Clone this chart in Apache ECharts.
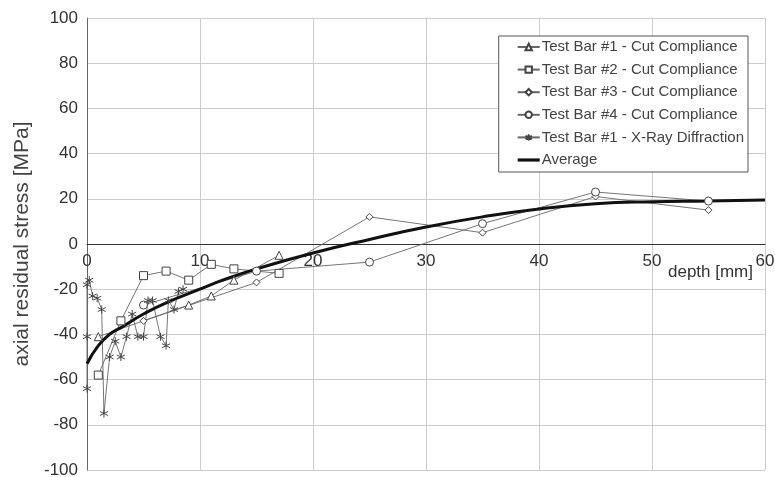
<!DOCTYPE html>
<html>
<head>
<meta charset="utf-8">
<script src="https://cdn.jsdelivr.net/npm/echarts@6/dist/echarts.min.js"></script>
<style>
  html, body { margin: 0; padding: 0; background: #fff; }
  #chart { width: 775px; height: 477px; }
</style>
</head>
<body>
<div id="chart"></div>
<script>
  // [depth mm, stress MPa]
  var bar1Cut = [[1, -41], [9, -27], [11, -23], [13, -16], [17, -5]];
  var bar2Cut = [[1, -58], [3, -34], [5, -14], [7, -12], [9, -16], [11, -9], [13, -11], [17, -13]];
  var bar3Cut = [[5, -34], [15, -17], [25, 12], [35, 5], [45, 21], [55, 15]];
  var bar4Cut = [[5, -27], [15, -12], [25, -8], [35, 9], [45, 23], [55, 19]];
  var bar1Xray = [[0, -64], [0, -41], [0, -18], [0.2, -16], [0.5, -23], [0.9, -24], [1.3, -29], [1.5, -75],
    [2, -50], [2.5, -43], [3, -50], [3.5, -41], [4, -31], [4.5, -41], [5, -41], [5.4, -25], [5.8, -25],
    [6.5, -41], [7, -45], [7.2, -25], [7.7, -29], [8.1, -21], [8.5, -20]];
  var average = [[0, -53], [1, -45], [2, -40], [3, -37], [5, -31], [7, -26], [10, -20], [12, -16], [15, -11],
    [20, -4], [25, 2], [30, 7.5], [35, 12], [40, 15.5], [45, 17.8], [50, 18.7], [55, 19], [60, 19.5]];

  var names = ['Test Bar #1 - Cut Compliance', 'Test Bar #2 - Cut Compliance', 'Test Bar #3 - Cut Compliance',
    'Test Bar #4 - Cut Compliance', 'Test Bar #1 - X-Ray Diffraction', 'Average'];

  var asterisk = 'path://M5,0L5,10M0.7,2.5L9.3,7.5M9.3,2.5L0.7,7.5';

  var gridTop = 18, gridBottom = 7, height = 477;
  // move the x axis up to the zero line (middle of the -100..100 range)
  var zeroOffset = -((height - gridTop - gridBottom) / 2);

  var chart = echarts.init(document.getElementById('chart'));

  function thin(name, data, symbol, size) {
    return {
      name: name,
      type: 'line',
      data: data,
      symbol: symbol,
      symbolSize: size,
      lineStyle: { color: '#666', width: 0.9 },
      itemStyle: { color: '#fff', borderColor: '#444', borderWidth: 1 },
      emphasis: { disabled: true }
    };
  }

  var xray = thin(names[4], bar1Xray, asterisk, 8);
  xray.itemStyle = { color: '#444', borderColor: '#444', borderWidth: 1 };

  var legendData = names.slice(0, 5);
  legendData.push({ name: names[5], icon: 'path://M0,0L22,0L22,3.2L0,3.2Z' });

  var option = {
    animation: false,
    textStyle: { fontFamily: 'Liberation Sans, Arial, sans-serif' },
    grid: { left: 87, right: 10, top: gridTop, bottom: gridBottom, outerBoundsMode: 'none' },
    legend: {
      data: legendData,
      orient: 'vertical',
      right: 27,
      top: 36,
      padding: [3.5, 4, 4.5, 18],
      itemWidth: 22,
      itemHeight: 8,
      itemGap: 7.6,
      backgroundColor: '#fff',
      borderColor: '#555',
      borderWidth: 1,
      borderRadius: 0,
      textStyle: { fontSize: 15, color: '#444', padding: [0, 0, 0, -3] }
    },
    xAxis: {
      type: 'value',
      min: 0,
      max: 60,
      interval: 10,
      position: 'bottom',
      offset: zeroOffset,
      name: 'depth [mm]',
      nameLocation: 'end',
      nameGap: -12,
      nameMoveOverlap: false,
      nameTextStyle: { fontSize: 17, color: '#333', align: 'right', verticalAlign: 'top', padding: [20, 0, 0, 0] },
      axisLine: { onZero: false, lineStyle: { color: '#333', width: 1 } },
      axisTick: { show: false },
      axisLabel: { fontSize: 17, color: '#333', margin: 9 },
      splitLine: { show: true, lineStyle: { color: '#ccc', width: 1 } }
    },
    yAxis: {
      type: 'value',
      min: -100,
      max: 100,
      interval: 20,
      name: 'axial residual stress [MPa]',
      nameLocation: 'middle',
      nameGap: 53,
      nameTextStyle: { fontSize: 21, color: '#444' },
      axisLine: { show: true, onZero: false, lineStyle: { color: '#666', width: 1 } },
      axisTick: { show: false },
      axisLabel: { fontSize: 17, color: '#333', margin: 9 },
      splitLine: { show: true, lineStyle: { color: '#ccc', width: 1 } }
    },
    series: [
      thin(names[0], bar1Cut, 'triangle', 8),
      thin(names[1], bar2Cut, 'rect', 8),
      thin(names[2], bar3Cut, 'diamond', 7),
      thin(names[3], bar4Cut, 'circle', 8),
      xray,
      {
        name: names[5],
        type: 'line',
        data: average,
        smooth: true,
        showSymbol: false,
        symbol: 'none',
        lineStyle: { color: '#111', width: 3 },
        itemStyle: { color: '#111' },
        emphasis: { disabled: true }
      }
    ]
  };
  chart.setOption(option);
</script>
</body>
</html>
